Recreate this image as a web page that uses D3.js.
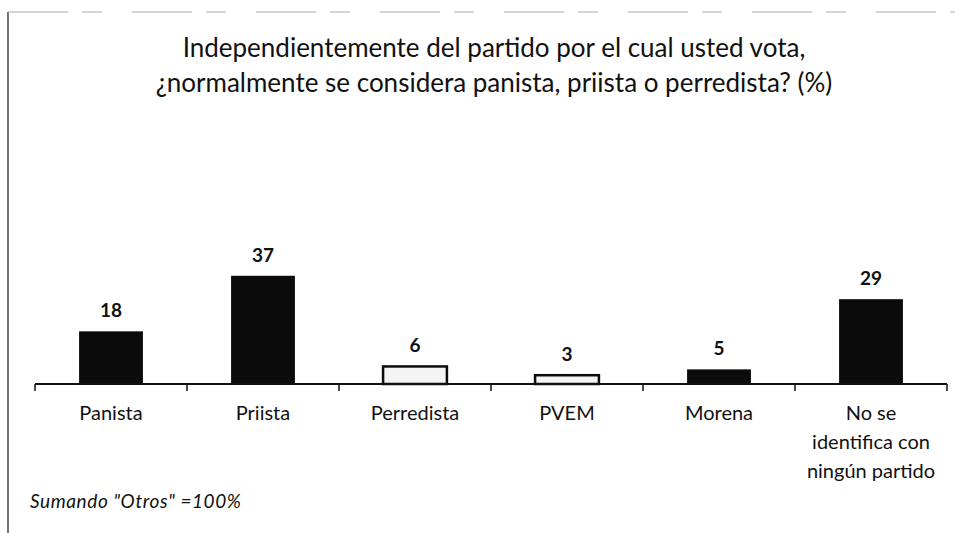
<!DOCTYPE html>
<html>
<head>
<meta charset="utf-8">
<script src="https://cdn.jsdelivr.net/npm/d3@7"></script>
<style>
  body { margin: 0; background: #fff; }
  svg { display: block; font-family: Lato, "Noto Sans", sans-serif; }
</style>
</head>
<body>
<div id="chart"></div>
<script>
// Values (%)
var categories = ['Panista', 'Priista', 'Perredista', 'PVEM', 'Morena',
  'No se identifica con ningún partido'];
var categoryLines = [
  ['Panista'], ['Priista'], ['Perredista'], ['PVEM'], ['Morena'],
  ['No se', 'identifica con', 'ningún partido']
];
var values = [18, 37, 6, 3, 5, 29];
var hollow = [false, false, true, true, false, false];
var titleLines = [
  'Independientemente del partido por el cual usted vota,',
  '¿normalmente se considera panista, priista o perredista? (%)'
];
var footnote = 'Sumando "Otros" =100%';

var width = 955,
  height = 533,
  axisY = 384,
  left = 35,
  right = 947;

var svg = d3.select('#chart').append('svg')
  .attr('width', width)
  .attr('height', height);

// scanned frame: left and top rules
svg.append('line')
  .attr('x1', 8).attr('x2', 8).attr('y1', 12).attr('y2', height)
  .attr('stroke', '#444').attr('stroke-width', 1.5);
svg.append('line')
  .attr('x1', 8).attr('x2', width).attr('y1', 12).attr('y2', 12)
  .attr('stroke', '#aaa').attr('stroke-width', 1)
  .attr('stroke-dasharray', '60,14,20,30');

var x = d3.scaleBand()
  .domain(categories)
  .range([left, right])
  .padding(0);

var y = d3.scaleLinear()
  .domain([0, 40])
  .range([axisY, axisY - 117]);

var barW = x.bandwidth() * 0.42;

// Title
svg.append('text')
  .attr('x', 494)
  .attr('y', 57)
  .attr('text-anchor', 'middle')
  .attr('font-size', 26)
  .attr('fill', '#111')
  .selectAll('tspan')
  .data(titleLines)
  .enter()
  .append('tspan')
  .attr('x', 494)
  .attr('dy', function(d, i) { return i === 0 ? 0 : 35; })
  .text(String);

// Bars
svg.append('g').selectAll('rect')
  .data(values)
  .enter()
  .append('rect')
  .attr('x', function(d, i) {
    return x(categories[i]) + x.bandwidth() / 2 - barW / 2;
  })
  .attr('y', function(d) { return y(d); })
  .attr('width', barW)
  .attr('height', function(d) { return axisY - y(d); })
  .attr('fill', function(d, i) { return hollow[i] ? '#f4f4f4' : '#0b0b0b'; })
  .attr('stroke', function(d, i) { return hollow[i] ? '#0b0b0b' : 'none'; })
  .attr('stroke-width', 2.5);

// Value labels
svg.append('g').selectAll('text')
  .data(values)
  .enter()
  .append('text')
  .attr('x', function(d, i) {
    return x(categories[i]) + x.bandwidth() / 2;
  })
  .attr('y', function(d) { return y(d) - 14; })
  .attr('text-anchor', 'middle')
  .attr('font-size', 19)
  .attr('font-weight', 'bold')
  .attr('fill', '#111')
  .text(String);

// Axis baseline with ticks at band edges
var axis = d3.axisBottom(x)
  .tickSize(0)
  .tickFormat('');
var axisG = svg.append('g')
  .attr('transform', 'translate(0,' + axisY + ')')
  .call(axis);
axisG.select('.domain')
  .attr('stroke', '#111')
  .attr('stroke-width', 2)
  .attr('d', 'M' + left + ',0H' + right);

var edges = categories.map(function(c) { return x(c); }).concat([right]);
axisG.selectAll('line.edge')
  .data(edges)
  .enter()
  .append('line')
  .attr('class', 'edge')
  .attr('x1', function(d) { return d; })
  .attr('x2', function(d) { return d; })
  .attr('y1', 0)
  .attr('y2', 7)
  .attr('stroke', '#111')
  .attr('stroke-width', 1.5);

// Category labels
svg.append('g').selectAll('text')
  .data(categoryLines)
  .enter()
  .append('text')
  .attr('text-anchor', 'middle')
  .attr('font-size', 20)
  .attr('fill', '#111')
  .each(function(lines, i) {
    var cx = x(categories[i]) + x.bandwidth() / 2;
    d3.select(this).selectAll('tspan')
      .data(lines)
      .enter()
      .append('tspan')
      .attr('x', cx)
      .attr('y', function(d, j) { return 420 + j * 29; })
      .text(String);
  });

// Footnote
svg.append('text')
  .attr('x', 30)
  .attr('y', 508)
  .attr('font-size', 19)
  .attr('letter-spacing', 0.6)
  .attr('font-style', 'italic')
  .attr('fill', '#111')
  .text(footnote);
</script>
</body>
</html>
